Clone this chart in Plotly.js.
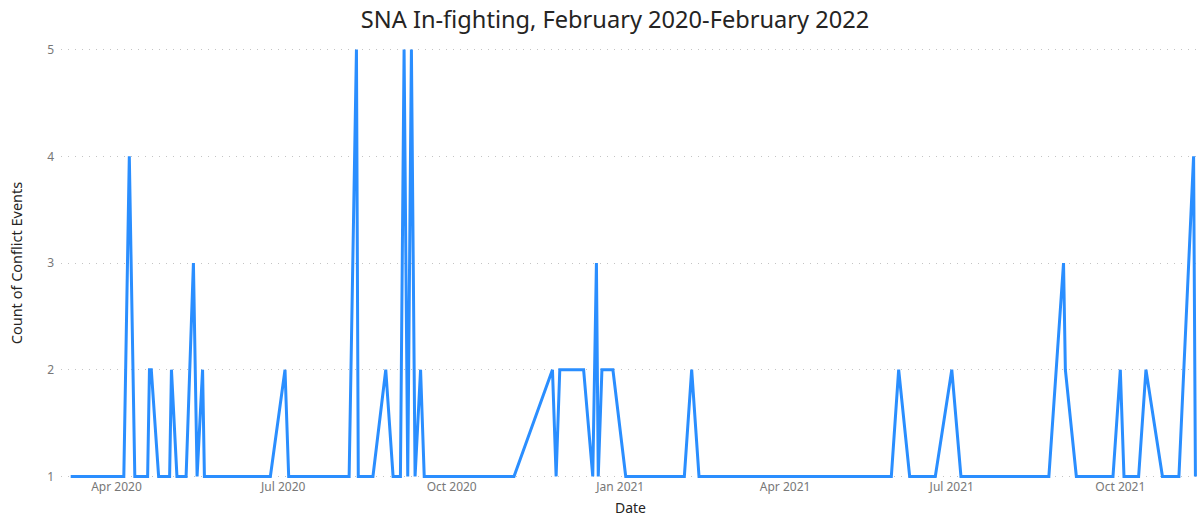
<!DOCTYPE html>
<html>
<head>
<meta charset="utf-8">
<script src="https://cdn.plot.ly/plotly-3.0.1.min.js"></script>
<style>
  html, body { margin: 0; padding: 0; background: #ffffff; }
  #chart { width: 1201px; height: 517px; }
</style>
</head>
<body>
<div id="chart"></div>
<script>
// Event dates (vertices of the line)
const dates = [
  "2020-03-07", "2020-04-05", "2020-04-08", "2020-04-11", "2020-04-18", "2020-04-19", "2020-04-20",
  "2020-04-24", "2020-04-30", "2020-05-01", "2020-05-04", "2020-05-09", "2020-05-13", "2020-05-14",
  "2020-05-15", "2020-05-18", "2020-05-19", "2020-06-24", "2020-07-02", "2020-07-04", "2020-08-06",
  "2020-08-10", "2020-08-11", "2020-08-19", "2020-08-26", "2020-08-30", "2020-09-03", "2020-09-05",
  "2020-09-07", "2020-09-09", "2020-09-11", "2020-09-14", "2020-09-16", "2020-11-04", "2020-11-25",
  "2020-11-27", "2020-11-29", "2020-12-12", "2020-12-17", "2020-12-19", "2020-12-20", "2020-12-22",
  "2020-12-28", "2021-01-04", "2021-02-05", "2021-02-09", "2021-02-13", "2021-05-29", "2021-06-02",
  "2021-06-08", "2021-06-22", "2021-07-01", "2021-07-06", "2021-08-23", "2021-08-31", "2021-09-01",
  "2021-09-07", "2021-09-27", "2021-10-01", "2021-10-03", "2021-10-11", "2021-10-15", "2021-10-24",
  "2021-11-02", "2021-11-10", "2021-11-11"
];
// Count of conflict events on each date
const counts = [
  1, 1, 4, 1, 1, 2, 2,
  1, 1, 2, 1, 1, 3, 2,
  1, 2, 1, 1, 2, 1, 1,
  5, 1, 1, 2, 1, 1, 5,
  1, 5, 1, 2, 1, 1, 2,
  1, 2, 2, 1, 3, 1, 2,
  2, 1, 1, 2, 1, 1, 2,
  1, 1, 2, 1, 1, 3, 2,
  1, 1, 2, 1, 1, 2, 1,
  1, 4, 1
];
const yTicks = [1, 2, 3, 4, 5];

const trace = {
  x: dates,
  y: counts,
  type: "scatter",
  mode: "lines",
  line: { color: "#2A8EFF", width: 3 },
  hoverinfo: "x+y"
};

const layout = {
  width: 1201,
  height: 517,
  margin: { l: 61, r: 1, t: 48, b: 39 },
  paper_bgcolor: "#ffffff",
  plot_bgcolor: "#ffffff",
  showlegend: false,
  font: { family: "'Noto Sans', 'Open Sans', sans-serif", color: "#605E5C" },
  title: {
    text: "SNA In-fighting, February 2020-February 2022",
    font: { family: "'Noto Sans', 'Open Sans', sans-serif", size: 23.6, color: "#252423" },
    xref: "container", x: 615 / 1201, xanchor: "center",
    yref: "container", y: 1 - 20 / 517, yanchor: "middle"
  },
  xaxis: {
    type: "date",
    range: ["2020-03-01 17:00", "2021-11-13 12:00"],
    tick0: "2020-01-01",
    dtick: "M3",
    tickformat: "%b %Y",
    showgrid: false,
    zeroline: false,
    showline: false,
    ticks: "",
    tickfont: { size: 12, color: "#777777" },
    title: { text: "Date", font: { size: 14, color: "#252423" }, standoff: 10 },
    fixedrange: true
  },
  yaxis: {
    range: [0.985, 5.015],
    tickvals: yTicks,
    ticktext: yTicks.map(String),
    showgrid: true,
    gridcolor: "#C4C4C4",
    griddash: "1px,6px",
    gridwidth: 1,
    zeroline: false,
    showline: false,
    ticks: "",
    ticklabelstandoff: 6,
    tickfont: { size: 12, color: "#777777" },
    title: { text: "Count of Conflict Events", font: { size: 14.5, color: "#252423" }, standoff: 21 },
    fixedrange: true
  }
};

Plotly.newPlot("chart", [trace], layout, { displayModeBar: false, staticPlot: false });
</script>
</body>
</html>
